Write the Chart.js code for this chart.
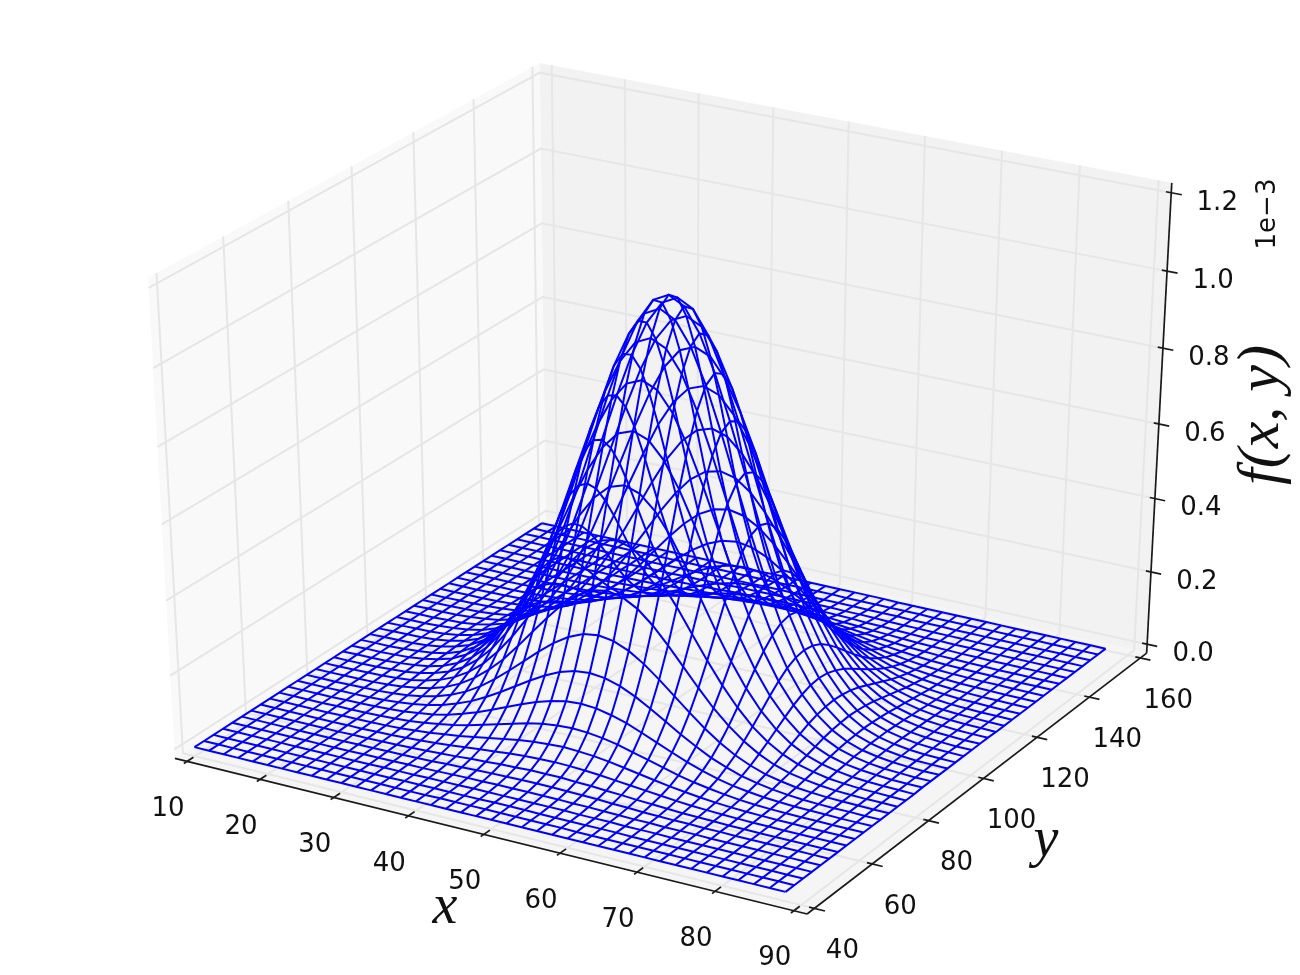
<!DOCTYPE html>
<html>
<head>
  <meta charset="UTF-8">
  <title>f(x, y) wireframe</title>
  <script src="https://cdn.jsdelivr.net/npm/chart.js"></script>
  <style>
    html, body { margin: 0; padding: 0; background: #fff; }
    canvas { display: block; }
  </style>
</head>
<body>
<canvas id="chart" width="1300" height="975"></canvas>
<script>
// grid the surface was sampled on
const xGrid = [10,12,14,16,18,20,22,24,26,28,30,32,34,36,38,40,42,44,46,48,50,52,54,56,58,60,62,64,66,68,70,72,74,76,78,80,82,84,86,88];
const yGrid = [40,43,46,49,52,55,58,61,64,67,70,73,76,79,82,85,88,91,94,97,100,103,106,109,112,115,118,121,124,127,130,133,136,139,142,145,148,151,154,157];

// f(x, y) in units of 1e-3, one row per xGrid value
const zRows = [
  [0,0,0,0,0,0,0,0,0,0,0,0,0,0,0,0,0,0,0,0,0,0,0,0,0,0,0,0,0,0,0,0,0,0,0,0,0,0,0,0],
  [0,0,0,0,0,0,0,0,0,0,0,0,0,0,0,0,.001,.001,.001,.001,.001,.001,.001,.001,.001,0,0,0,0,0,0,0,0,0,0,0,0,0,0,0],
  [0,0,0,0,0,0,0,0,0,0,0,0,0,.001,.001,.001,.001,.001,.001,.002,.002,.002,.001,.001,.001,.001,.001,.001,0,0,0,0,0,0,0,0,0,0,0,0],
  [0,0,0,0,0,0,0,0,0,0,0,.001,.001,.001,.002,.002,.002,.003,.003,.003,.003,.003,.003,.003,.002,.002,.002,.001,.001,.001,0,0,0,0,0,0,0,0,0,0],
  [0,0,0,0,0,0,0,0,0,.001,.001,.001,.002,.002,.003,.004,.005,.005,.006,.006,.006,.006,.006,.005,.005,.004,.003,.002,.002,.001,.001,.001,0,0,0,0,0,0,0,0],
  [0,0,0,0,0,0,0,0,.001,.001,.002,.002,.003,.004,.006,.007,.009,.010,.011,.012,.012,.012,.011,.010,.009,.007,.006,.004,.003,.002,.002,.001,.001,0,0,0,0,0,0,0],
  [0,0,0,0,0,0,0,.001,.001,.002,.003,.004,.006,.008,.010,.013,.015,.018,.019,.021,.021,.021,.019,.018,.015,.013,.010,.008,.006,.004,.003,.002,.001,.001,0,0,0,0,0,0],
  [0,0,0,0,0,0,.001,.001,.002,.003,.005,.007,.010,.014,.018,.022,.026,.030,.033,.035,.036,.035,.033,.030,.026,.022,.018,.014,.010,.007,.005,.003,.002,.001,.001,0,0,0,0,0],
  [0,0,0,0,0,.001,.001,.002,.003,.005,.008,.012,.017,.022,.029,.036,.043,.050,.055,.058,.060,.058,.055,.050,.043,.036,.029,.022,.017,.012,.008,.005,.003,.002,.001,.001,0,0,0,0],
  [0,0,0,0,.001,.001,.002,.003,.005,.008,.013,.019,.026,.035,.046,.057,.068,.079,.087,.092,.094,.092,.087,.079,.068,.057,.046,.035,.026,.019,.013,.008,.005,.003,.002,.001,.001,0,0,0],
  [0,0,0,0,.001,.002,.003,.005,.008,.013,.019,.028,.040,.054,.070,.087,.104,.120,.132,.141,.144,.141,.132,.120,.104,.087,.070,.054,.040,.028,.019,.013,.008,.005,.003,.002,.001,0,0,0],
  [0,0,0,.001,.001,.002,.004,.007,.012,.019,.028,.042,.058,.079,.102,.127,.152,.175,.194,.206,.210,.206,.194,.175,.152,.127,.102,.079,.058,.042,.028,.019,.012,.007,.004,.002,.001,.001,0,0],
  [0,0,0,.001,.002,.003,.006,.010,.017,.026,.040,.058,.082,.111,.144,.179,.214,.246,.272,.289,.295,.289,.272,.246,.214,.179,.144,.111,.082,.058,.040,.026,.017,.010,.006,.003,.002,.001,0,0],
  [0,0,.001,.001,.002,.004,.008,.014,.022,.035,.054,.079,.111,.149,.194,.242,.289,.333,.368,.390,.398,.390,.368,.333,.289,.242,.194,.149,.111,.079,.054,.035,.022,.014,.008,.004,.002,.001,.001,0],
  [0,0,.001,.002,.003,.006,.010,.018,.029,.046,.070,.102,.144,.194,.251,.313,.375,.431,.477,.506,.516,.506,.477,.431,.375,.313,.251,.194,.144,.102,.070,.046,.029,.018,.010,.006,.003,.002,.001,0],
  [0,0,.001,.002,.004,.007,.013,.022,.036,.057,.087,.127,.179,.242,.313,.390,.467,.538,.594,.631,.644,.631,.594,.538,.467,.390,.313,.242,.179,.127,.087,.057,.036,.022,.013,.007,.004,.002,.001,0],
  [0,.001,.001,.002,.005,.009,.015,.026,.043,.068,.104,.152,.214,.289,.375,.467,.559,.644,.711,.755,.770,.755,.711,.644,.559,.467,.375,.289,.214,.152,.104,.068,.043,.026,.015,.009,.005,.002,.001,.001],
  [0,.001,.001,.003,.005,.010,.018,.030,.050,.079,.120,.175,.246,.333,.431,.538,.644,.740,.818,.869,.886,.869,.818,.740,.644,.538,.431,.333,.246,.175,.120,.079,.050,.030,.018,.010,.005,.003,.001,.001],
  [0,.001,.001,.003,.006,.011,.019,.033,.055,.087,.132,.194,.272,.368,.477,.594,.711,.818,.904,.960,.979,.960,.904,.818,.711,.594,.477,.368,.272,.194,.132,.087,.055,.033,.019,.011,.006,.003,.001,.001],
  [0,.001,.002,.003,.006,.012,.021,.035,.058,.092,.141,.206,.289,.390,.506,.631,.755,.869,.960,1.019,1.040,1.019,.960,.869,.755,.631,.506,.390,.289,.206,.141,.092,.058,.035,.021,.012,.006,.003,.002,.001],
  [0,.001,.002,.003,.006,.012,.021,.036,.060,.094,.144,.210,.295,.398,.516,.644,.770,.886,.979,1.040,1.061,1.040,.979,.886,.770,.644,.516,.398,.295,.210,.144,.094,.060,.036,.021,.012,.006,.003,.002,.001],
  [0,.001,.002,.003,.006,.012,.021,.035,.058,.092,.141,.206,.289,.390,.506,.631,.755,.869,.960,1.019,1.040,1.019,.960,.869,.755,.631,.506,.390,.289,.206,.141,.092,.058,.035,.021,.012,.006,.003,.002,.001],
  [0,.001,.001,.003,.006,.011,.019,.033,.055,.087,.132,.194,.272,.368,.477,.594,.711,.818,.904,.960,.979,.960,.904,.818,.711,.594,.477,.368,.272,.194,.132,.087,.055,.033,.019,.011,.006,.003,.001,.001],
  [0,.001,.001,.003,.005,.010,.018,.030,.050,.079,.120,.175,.246,.333,.431,.538,.644,.740,.818,.869,.886,.869,.818,.740,.644,.538,.431,.333,.246,.175,.120,.079,.050,.030,.018,.010,.005,.003,.001,.001],
  [0,.001,.001,.002,.005,.009,.015,.026,.043,.068,.104,.152,.214,.289,.375,.467,.559,.644,.711,.755,.770,.755,.711,.644,.559,.467,.375,.289,.214,.152,.104,.068,.043,.026,.015,.009,.005,.002,.001,.001],
  [0,0,.001,.002,.004,.007,.013,.022,.036,.057,.087,.127,.179,.242,.313,.390,.467,.538,.594,.631,.644,.631,.594,.538,.467,.390,.313,.242,.179,.127,.087,.057,.036,.022,.013,.007,.004,.002,.001,0],
  [0,0,.001,.002,.003,.006,.010,.018,.029,.046,.070,.102,.144,.194,.251,.313,.375,.431,.477,.506,.516,.506,.477,.431,.375,.313,.251,.194,.144,.102,.070,.046,.029,.018,.010,.006,.003,.002,.001,0],
  [0,0,.001,.001,.002,.004,.008,.014,.022,.035,.054,.079,.111,.149,.194,.242,.289,.333,.368,.390,.398,.390,.368,.333,.289,.242,.194,.149,.111,.079,.054,.035,.022,.014,.008,.004,.002,.001,.001,0],
  [0,0,0,.001,.002,.003,.006,.010,.017,.026,.040,.058,.082,.111,.144,.179,.214,.246,.272,.289,.295,.289,.272,.246,.214,.179,.144,.111,.082,.058,.040,.026,.017,.010,.006,.003,.002,.001,0,0],
  [0,0,0,.001,.001,.002,.004,.007,.012,.019,.028,.042,.058,.079,.102,.127,.152,.175,.194,.206,.210,.206,.194,.175,.152,.127,.102,.079,.058,.042,.028,.019,.012,.007,.004,.002,.001,.001,0,0],
  [0,0,0,0,.001,.002,.003,.005,.008,.013,.019,.028,.040,.054,.070,.087,.104,.120,.132,.141,.144,.141,.132,.120,.104,.087,.070,.054,.040,.028,.019,.013,.008,.005,.003,.002,.001,0,0,0],
  [0,0,0,0,.001,.001,.002,.003,.005,.008,.013,.019,.026,.035,.046,.057,.068,.079,.087,.092,.094,.092,.087,.079,.068,.057,.046,.035,.026,.019,.013,.008,.005,.003,.002,.001,.001,0,0,0],
  [0,0,0,0,0,.001,.001,.002,.003,.005,.008,.012,.017,.022,.029,.036,.043,.050,.055,.058,.060,.058,.055,.050,.043,.036,.029,.022,.017,.012,.008,.005,.003,.002,.001,.001,0,0,0,0],
  [0,0,0,0,0,0,.001,.001,.002,.003,.005,.007,.010,.014,.018,.022,.026,.030,.033,.035,.036,.035,.033,.030,.026,.022,.018,.014,.010,.007,.005,.003,.002,.001,.001,0,0,0,0,0],
  [0,0,0,0,0,0,0,.001,.001,.002,.003,.004,.006,.008,.010,.013,.015,.018,.019,.021,.021,.021,.019,.018,.015,.013,.010,.008,.006,.004,.003,.002,.001,.001,0,0,0,0,0,0],
  [0,0,0,0,0,0,0,0,.001,.001,.002,.002,.003,.004,.006,.007,.009,.010,.011,.012,.012,.012,.011,.010,.009,.007,.006,.004,.003,.002,.002,.001,.001,0,0,0,0,0,0,0],
  [0,0,0,0,0,0,0,0,0,.001,.001,.001,.002,.002,.003,.004,.005,.005,.006,.006,.006,.006,.006,.005,.005,.004,.003,.002,.002,.001,.001,.001,0,0,0,0,0,0,0,0],
  [0,0,0,0,0,0,0,0,0,0,0,.001,.001,.001,.002,.002,.002,.003,.003,.003,.003,.003,.003,.003,.002,.002,.002,.001,.001,.001,0,0,0,0,0,0,0,0,0,0],
  [0,0,0,0,0,0,0,0,0,0,0,0,0,.001,.001,.001,.001,.001,.001,.002,.002,.002,.001,.001,.001,.001,.001,.001,0,0,0,0,0,0,0,0,0,0,0,0],
  [0,0,0,0,0,0,0,0,0,0,0,0,0,0,0,0,.001,.001,.001,.001,.001,.001,.001,.001,.001,0,0,0,0,0,0,0,0,0,0,0,0,0,0,0]
];

const xTicks = [10,20,30,40,50,60,70,80,90];
const yTicks = [40,60,80,100,120,140,160];
const zTicks = [0,0.2,0.4,0.6,0.8,1.0,1.2];
const zTickLabels = ['0.0','0.2','0.4','0.6','0.8','1.0','1.2'];

const xLim = [10, 90], yLim = [40, 160], zLim = [0, 1.2];

// camera: elev 30, azim -60, dist 10, the box is the unit cube
const U = [0.866, 0.5, 0];
const V = [-0.25, 0.433, 0.866];
const N = [0.433, -0.75, 0.5];
const DIST = 10;
const EDGE = 0.5 + 1 / 48;   // panes stick out a bit past the limits

function dot(a, b) { return a[0]*b[0] + a[1]*b[1] + a[2]*b[2]; }
function camera(p) {
  const w = DIST - dot(N, p);
  return { x: dot(U, p) / w, y: dot(V, p) / w };
}
function nx(x) { return (x - xLim[0]) / (xLim[1] - xLim[0]) - 0.5; }
function ny(y) { return (y - yLim[0]) / (yLim[1] - yLim[0]) - 0.5; }
function nz(z) { return (z - zLim[0]) / (zLim[1] - zLim[0]) - 0.5; }

const datasets = [];
function addLine(points, color, width, order) {
  datasets.push({
    data: points.map(camera), showLine: true, borderColor: color, borderWidth: width,
    pointRadius: 0, order: order, fill: false, tension: 0, clip: false
  });
}
function addPane(points, color) {
  datasets.push({
    data: points.map(camera), showLine: true, borderWidth: 0, borderColor: color,
    backgroundColor: color, pointRadius: 0, order: 9, fill: 'shape', tension: 0, clip: false
  });
}

const T = EDGE;
addPane([[-T,-T,-T],[-T,T,-T],[-T,T,T],[-T,-T,T]], '#f9f9f9');
addPane([[-T,T,-T],[T,T,-T],[T,T,T],[-T,T,T]], '#f2f2f2');
addPane([[-T,-T,-T],[T,-T,-T],[T,T,-T],[-T,T,-T]], '#f5f5f5');

const GRID = '#e6e6e6';
xTicks.forEach(x => addLine([[nx(x),-T,-T],[nx(x),T,-T],[nx(x),T,T]], GRID, 2, 8));
yTicks.forEach(y => addLine([[T,ny(y),-T],[-T,ny(y),-T],[-T,ny(y),T]], GRID, 2, 8));
zTicks.forEach(z => addLine([[T,T,nz(z)],[-T,T,nz(z)],[-T,-T,nz(z)]], GRID, 2, 8));

const AXIS = '#1a1a1a';
addLine([[-T,-T,-T],[T,-T,-T]], AXIS, 1.7, 5);
addLine([[T,-T,-T],[T,T,-T]], AXIS, 1.7, 5);
addLine([[T,T,-T],[T,T,T]], AXIS, 1.7, 5);

const OUT = 1 / 120, IN = 1 / 60;
xTicks.forEach(x => addLine([[nx(x),-T-OUT,-T],[nx(x),-T+IN,-T]], AXIS, 1.7, 4));
yTicks.forEach(y => addLine([[T-OUT,ny(y),-T],[T+IN,ny(y),-T]], AXIS, 1.7, 4));
zTicks.forEach(z => addLine([[T-OUT,T,nz(z)],[T+IN,T,nz(z)]], AXIS, 1.7, 4));

// the wireframe itself
const BLUE = '#0000ff';
xGrid.forEach((x, i) => addLine(yGrid.map((y, j) => [nx(x), ny(y), nz(zRows[i][j])]), BLUE, 2, 1));
yGrid.forEach((y, j) => addLine(xGrid.map((x, i) => [nx(x), ny(y), nz(zRows[i][j])]), BLUE, 2, 1));

// text labels, offsets in pixels from the tick
const textPlugin = {
  id: 'axisText',
  afterDatasetsDraw(chart) {
    const c = chart.ctx, sx = chart.scales.x, sy = chart.scales.y;
    const put = (p, dx, dy, s) => {
      const q = camera(p);
      c.fillText(s, sx.getPixelForValue(q.x) + dx, sy.getPixelForValue(q.y) + dy);
    };
    c.save();
    c.fillStyle = '#111';
    c.textAlign = 'center';
    c.textBaseline = 'middle';
    c.font = '26px "DejaVu Sans"';
    xTicks.forEach(x => put([nx(x),-T,-T], -19, 48, String(x)));
    yTicks.forEach(y => put([T,ny(y),-T], 28, 43, String(y)));
    zTicks.forEach((z, i) => put([T,T,nz(z)], 46, 10, zTickLabels[i]));

    c.font = 'italic 56px "Liberation Serif"';
    c.fillText('x', 445, 908);
    c.fillText('y', 1046, 841);
    c.save();
    c.translate(1262, 415);
    c.rotate(-Math.PI / 2);
    c.font = 'italic 60px "Liberation Serif"';
    c.fillText('f(x, y)', 0, 0);
    c.restore();

    c.save();
    c.font = '26px "DejaVu Sans"';
    c.translate(1268, 214);
    c.rotate(-Math.PI / 2);
    c.fillText('1e\u22123', 0, 0);
    c.restore();
    c.restore();
  }
};

// scales hold camera-plane values, the ranges put the box where it sits on the page
const SX = 7005, SY = 5267, CX = 668.6, CY = 473.4;
new Chart(document.getElementById('chart'), {
  type: 'scatter',
  data: { datasets: datasets },
  options: {
    responsive: false,
    animation: false,
    events: [],
    layout: { padding: 0 },
    plugins: { legend: { display: false }, tooltip: { enabled: false }, title: { display: false } },
    scales: {
      x: { type: 'linear', display: false, min: -CX / SX, max: (1300 - CX) / SX },
      y: { type: 'linear', display: false, min: (CY - 975) / SY, max: CY / SY }
    }
  },
  plugins: [textPlugin]
});
</script>
</body>
</html>
